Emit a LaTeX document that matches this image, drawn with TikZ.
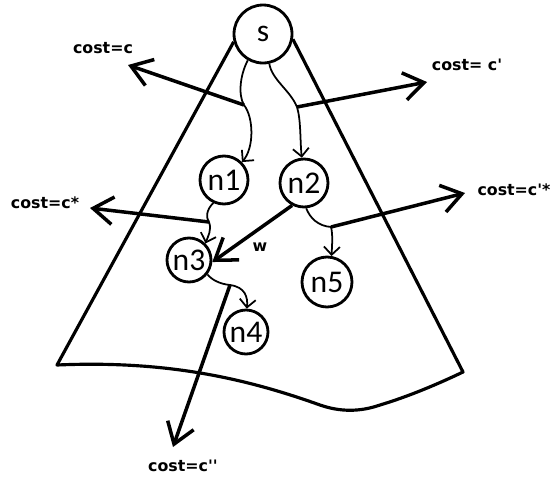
\documentclass[tikz,border=0pt]{standalone}
\usepackage{fontspec}
\newfontfamily\costfont{DejaVu Sans}
\newfontfamily\nodefont{Carlito}
\usetikzlibrary{arrows.meta}

\begin{document}
\begin{tikzpicture}[
  x=0.02cm, y=-0.02cm,
  state/.style={circle, draw, line width=1.6pt, inner sep=0pt, minimum size=0.96cm, font=\nodefont\fontsize{18}{18}\selectfont},
  lbl/.style={font=\costfont\bfseries\fontsize{9}{10}\selectfont},
  arr/.style={-{Straight Barb[length=4mm, width=5.5mm]}, line width=2pt},
  sarr/.style={-{Straight Barb[length=1.6mm, width=3.2mm]}, line width=1pt},
  cone/.style={line width=1.8pt, line join=round}
]
  \useasboundingbox (0,0) rectangle (554,477);

  % search tree nodes
  \node[state, minimum size=1.16cm] (s) at (263,34) {s};
  \node[state] (n1) at (224,180) {n1};
  \node[state] (n2) at (304,183) {n2};
  \node[state, minimum size=0.88cm] (n3) at (189,260) {n3};
  \node[state, minimum size=0.88cm] (n4) at (246,332) {n4};
  \node[state, minimum size=1cm] (n5) at (327,282) {n5};

  % cost labels
  \node[lbl] (lc) at (103,48) {cost=c};
  \node[lbl] (lc1) at (467,65) {cost= c'};
  \node[lbl] (lcs) at (45,203) {cost=c*};
  \node[lbl] (lc1s) at (514,190) {cost=c'*};
  \node[lbl] (lc2) at (183,466) {cost=c''};
  \node[lbl] (w) at (260,247) {w};

  % branch points and arrow tips
  \coordinate (ps1) at (244,105);
  \coordinate (ps2) at (297,107);
  \coordinate (p13) at (209,222);
  \coordinate (p25) at (331,227);
  \coordinate (p34) at (230,285);
  \coordinate (tc) at (128,65);
  \coordinate (tc1) at (427,82);
  \coordinate (tcs) at (90,208);
  \coordinate (tc1s) at (465,193);
  \coordinate (tc2) at (173,447);

  % cone
  \draw[cone] (s.195) -- (57,365)
    .. controls (170,360) and (250,380) .. (320,405)
    .. controls (340,412) and (360,412) .. (380,405)
    .. controls (410,396) and (440,383) .. (463,372) -- (s.-10);

  % tree edges
  \draw[sarr] (s.-120) .. controls (240,75) and (238,95) .. (ps1)
    .. controls (254,118) and (254,148) .. (n1.45);
  \draw[sarr] (s.-78) .. controls (272,80) and (290,90) .. (ps2)
    .. controls (301,120) and (300,140) .. (n2.95);
  \draw[sarr] (n1.-115) .. controls (206,210) and (206,218) .. (p13)
    .. controls (212,230) and (208,236) .. (n3.45);
  \draw[sarr] (n2.-85) .. controls (310,218) and (318,226) .. (p25)
    .. controls (333,235) and (332,245) .. (n5.80);
  \draw[sarr] (n3.-38) .. controls (212,280) and (220,284) .. (p34)
    .. controls (245,287) and (248,297) .. (n4.88);
  \draw[arr] (n2.-118) -- (n3.-5);

  % cost arrows
  \draw[arr] (ps1) -- (tc);
  \draw[arr] (ps2) -- (tc1);
  \draw[arr] (p13) -- (tcs);
  \draw[arr] (p25) -- (tc1s);
  \draw[arr] (p34) -- (tc2);
\end{tikzpicture}
\end{document}
